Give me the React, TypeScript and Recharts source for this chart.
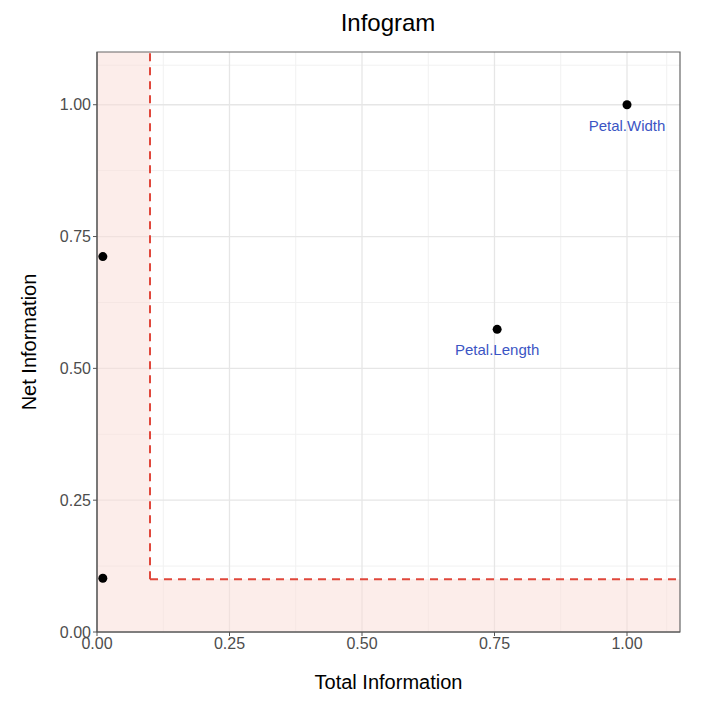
import React from 'react';
import {
    ScatterChart,
    Scatter,
    XAxis,
    YAxis,
    CartesianGrid,
    ReferenceArea,
    ReferenceLine,
    LabelList,
} from 'recharts';

const totalInfo = [0.011, 0.011, 0.755, 1.0];
const netInfo = [0.712, 0.102, 0.574, 1.0];
const varLabels = ['', '', 'Petal.Length', 'Petal.Width'];

const majorTicks = [0, 0.25, 0.5, 0.75, 1.0];
const minorTicks = [0.125, 0.375, 0.625, 0.875, 1.075];
const threshold = 0.1;
const axisMax = 1.1;

const points = totalInfo.map((x, i) => ({ x, y: netInfo[i], label: varLabels[i] }));

const font = '"Liberation Sans", Arial, sans-serif';

const PointLabel = (props: any) => {
    const { x, y, width, value } = props;
    if (!value) return null;
    const cx = x + width / 2;
    return (
        <text x={cx} y={y + width / 2 + 26} textAnchor="middle" fill="#3b55c4" fontSize={15} fontFamily={font}>
            {value}
        </text>
    );
};

const App: React.FC = () => {
    return (
        <div style={{ position: 'absolute', left: 0, top: 0, width: 720, height: 706, background: '#fff' }}>
            <ScatterChart width={720} height={706} margin={{ top: 52, right: 40, bottom: 44, left: 47 }}>
                <ReferenceArea x1={0} x2={threshold} y1={0} y2={axisMax} fill="#f9dcd6" fillOpacity={0.5} stroke="none" />
                <ReferenceArea x1={threshold} x2={axisMax} y1={0} y2={threshold} fill="#f9dcd6" fillOpacity={0.5} stroke="none" />
                <CartesianGrid stroke="#f1f1f1" strokeWidth={1} horizontalValues={minorTicks} verticalValues={minorTicks} />
                <CartesianGrid stroke="#e6e6e6" strokeWidth={1.3} horizontalValues={majorTicks} verticalValues={majorTicks} />
                <XAxis
                    type="number"
                    dataKey="x"
                    domain={[0, axisMax]}
                    ticks={majorTicks}
                    tickFormatter={(v: number) => v.toFixed(2)}
                    allowDataOverflow
                    height={30}
                    stroke="#555"
                    tickSize={4}
                    tick={{ fill: '#4d4d4d', fontSize: 16, fontFamily: font }}
                    label={{ value: 'Total Information', position: 'insideBottom', offset: -27, fill: '#000', fontSize: 20, fontFamily: font }}
                />
                <YAxis
                    type="number"
                    dataKey="y"
                    domain={[0, axisMax]}
                    ticks={majorTicks}
                    tickFormatter={(v: number) => v.toFixed(2)}
                    allowDataOverflow
                    width={50}
                    stroke="#555"
                    tickSize={4}
                    tick={{ fill: '#4d4d4d', fontSize: 16, fontFamily: font }}
                    label={{ value: 'Net Information', angle: -90, position: 'insideLeft', offset: -18, fill: '#000', fontSize: 20, fontFamily: font, style: { textAnchor: 'middle' } }}
                />
                <ReferenceArea x1={0} x2={axisMax} y1={0} y2={axisMax} fill="none" stroke="#666" strokeWidth={1.2} />
                <ReferenceLine
                    segment={[{ x: threshold, y: threshold }, { x: threshold, y: axisMax }]}
                    stroke="#e0473b"
                    strokeWidth={2}
                    strokeDasharray="8 6"
                />
                <ReferenceLine
                    segment={[{ x: threshold, y: threshold }, { x: axisMax, y: threshold }]}
                    stroke="#e0473b"
                    strokeWidth={2}
                    strokeDasharray="8 6"
                />
                <Scatter data={points} fill="#000" isAnimationActive={false} shape={(p: any) => <circle cx={p.cx} cy={p.cy} r={4.5} fill="#000" />}>
                    <LabelList dataKey="label" content={<PointLabel />} />
                </Scatter>
                <text x={388} y={31} textAnchor="middle" fontSize={24} fontFamily={font} fill="#000">
                    Infogram
                </text>
            </ScatterChart>
        </div>
    );
};

export default App;
